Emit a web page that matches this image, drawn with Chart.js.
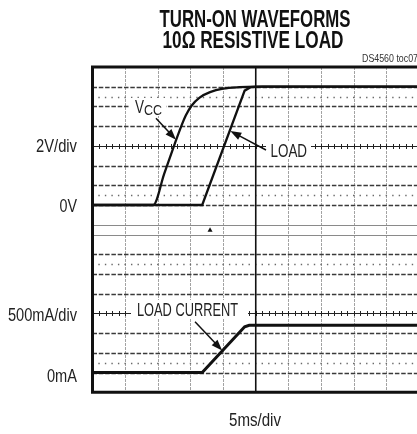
<!DOCTYPE html>
<html>
<head>
<meta charset="utf-8">
<script src="https://cdn.jsdelivr.net/npm/chart.js@4.4.1/dist/chart.umd.min.js"></script>
<style>
html,body{margin:0;padding:0;background:#fff;overflow:hidden;width:417px;height:434px}
#wrap{position:absolute;left:0;top:0;width:421px;height:434px}
canvas{display:block}
</style>
</head>
<body>
<div id="wrap"><canvas id="c" width="421" height="434"></canvas></div>
<script>
// ---- data (time in ms, volts, amps) ----
const vccTime  = [0, 9.3, 11.0, 12.7, 13.6, 14.3, 15.2, 16.4, 18.0, 20.0, 22.5, 25, 50];
const vccVolts = [0, 0,   3.2,  6.4,  8.0,  9.1,  10.1, 10.9, 11.45, 11.8, 11.95, 12, 12];
const loadTime  = [0, 16.8, 23.3, 24.2, 26, 50];
const loadVolts = [0, 0,    11.6, 11.95, 12, 12];
const currTime = [0, 16.8, 23.3, 24.0, 50];
const currAmps = [0, 0,    1.16, 1.2,  1.2];
const titleLines = ["TURN-ON WAVEFORMS", "10\u03A9 RESISTIVE LOAD"];
const docTag = "DS4560 toc07";
const voltScaleLabels = ["2V/div", "0V"];
const currScaleLabels = ["500mA/div", "0mA"];
const timeScaleLabel = "5ms/div";
const traceNames = ["V", "CC", "LOAD", "LOAD CURRENT"];
const triggerTime = 18.0;
// arrows: [tail t, tail value, tip t, tip value, axis]
const arrowVcc  = [9.72, 8.79, 12.79, 6.62, 'yV'];
const arrowLoad = [26.57, 5.58, 21.1, 7.5, 'yV'];
const arrowCurr = [15.70, 1.29, 19.85, 0.56, 'yI'];

const pts = (xs, ys) => xs.map((x, i) => ({x, y: ys[i]}));
const FAM = '"Liberation Sans", Arial, sans-serif';

function txt(ctx, s, x, y, size, weight, fitW, align, color) {
  ctx.save();
  ctx.font = weight + ' ' + size + 'px ' + FAM;
  ctx.fillStyle = color || '#222';
  ctx.textBaseline = 'alphabetic';
  ctx.textAlign = 'left';
  const mw = ctx.measureText(s).width;
  const sx = fitW ? fitW / mw : 0.82;
  const w = mw * sx;
  const x0 = align === 'center' ? x - w / 2 : align === 'right' ? x - w : x;
  ctx.translate(x0, y);
  ctx.scale(sx, 1);
  ctx.fillText(s, 0, 0);
  ctx.restore();
  return w;
}

function arrow(ctx, x1, y1, x2, y2) {
  const a = Math.atan2(y2 - y1, x2 - x1);
  const hl = 11, hw = 4;
  ctx.save();
  ctx.strokeStyle = '#111';
  ctx.fillStyle = '#111';
  ctx.lineWidth = 1.5;
  ctx.beginPath();
  ctx.moveTo(x1, y1);
  ctx.lineTo(x2 - Math.cos(a) * hl * 0.8, y2 - Math.sin(a) * hl * 0.8);
  ctx.stroke();
  ctx.beginPath();
  ctx.moveTo(x2, y2);
  ctx.lineTo(x2 - Math.cos(a) * hl + Math.sin(a) * hw, y2 - Math.sin(a) * hl - Math.cos(a) * hw);
  ctx.lineTo(x2 - Math.cos(a) * hl - Math.sin(a) * hw, y2 - Math.sin(a) * hl + Math.cos(a) * hw);
  ctx.closePath();
  ctx.fill();
  ctx.restore();
}

const scopePlugin = {
  id: 'scope',
  beforeDatasetsDraw(chart) {
    const ctx = chart.ctx;
    const X = t => chart.scales.x.getPixelForValue(t);
    const Y = d => chart.scales.yd.getPixelForValue(d);
    const L = X(0), R = X(50), T = Y(16.5), B = Y(0);
    ctx.save();
    // vertical graticule
    for (let k = 1; k < 10; k++) {
      if (k === 5) continue;
      const x = Math.round(X(k * 5)) + 0.5;
      ctx.strokeStyle = '#a3a3a3';
      ctx.lineWidth = 1;
      ctx.setLineDash([3, 1]);
      ctx.beginPath(); ctx.moveTo(x, T); ctx.lineTo(x, B); ctx.stroke();
    }
    ctx.setLineDash([]);
    const hl = (d, kind) => {
      const y = Math.round(Y(d)) + 0.5;
      ctx.beginPath();
      if (kind === 'dash') {
        ctx.strokeStyle = '#3a3a3a'; ctx.lineWidth = 1.3; ctx.setLineDash([4.5, 1.8]);
      } else if (kind === 'dot') {
        ctx.strokeStyle = '#6a6a6a'; ctx.lineWidth = 1.3;
        const step = (X(1) - X(0));
        ctx.setLineDash([1.4, step - 1.4]);
        ctx.lineDashOffset = -step + 0.7;
      } else if (kind === 'gap') {
        ctx.strokeStyle = '#8a8a8a'; ctx.lineWidth = 1; ctx.setLineDash([]);
      } else {
        ctx.strokeStyle = '#222'; ctx.lineWidth = 1.2; ctx.setLineDash([]);
      }
      ctx.moveTo(L, y); ctx.lineTo(R, y); ctx.stroke();
      ctx.setLineDash([]); ctx.lineDashOffset = 0;
      if (kind === 'center') {
        ctx.lineWidth = 1;
        ctx.beginPath();
        for (let t = 1; t < 50; t++) {
          const x = Math.round(X(t)) + 0.5;
          ctx.moveTo(x, y - 2.5); ctx.lineTo(x, y + 2.5);
        }
        ctx.stroke();
      }
    };
    // top panel (8.5..16.5) and bottom panel (0..8)
    [15.5, 14.5, 13.5, 11.5, 10.5, 9.5, 7, 6, 5, 3, 2, 1].forEach(d => hl(d, 'dash'));
    [15.0, 10.0, 6.5, 1.5].forEach(d => hl(d, 'dot'));
    [12.5, 4].forEach(d => hl(d, 'center'));
    [8.5, 8].forEach(d => hl(d, 'gap'));
    // center vertical
    ctx.strokeStyle = '#111'; ctx.lineWidth = 1.6;
    const xc = X(25);
    ctx.beginPath(); ctx.moveTo(xc, T); ctx.lineTo(xc, B); ctx.stroke();
    // trigger marker
    const xt = X(triggerTime), yt = Y(8.25);
    ctx.fillStyle = '#111';
    ctx.beginPath(); ctx.moveTo(xt, yt - 2.5); ctx.lineTo(xt + 2.5, yt + 2); ctx.lineTo(xt - 2.5, yt + 2); ctx.closePath(); ctx.fill();
    ctx.restore();
  },
  afterDatasetsDraw(chart) {
    const ctx = chart.ctx;
    const sc = chart.scales;
    const X = t => sc.x.getPixelForValue(t);
    const Y = d => sc.yd.getPixelForValue(d);
    const L = X(0), R = X(50), T = Y(16.5), B = Y(0);
    ctx.save();
    // frame
    ctx.strokeStyle = '#111';
    ctx.lineWidth = 3;
    ctx.beginPath();
    ctx.moveTo(L, T); ctx.lineTo(R, T); ctx.lineTo(R, B); ctx.lineTo(L, B); ctx.closePath();
    ctx.stroke();
    // label backgrounds
    ctx.fillStyle = '#fff';
    ctx.fillRect(129, 98, 37, 18);
    ctx.fillRect(266, 141, 45, 18);
    ctx.fillRect(131, 300, 117, 19);
    // trace labels
    txt(ctx, traceNames[0], 135, 113, 18, 'normal', 9, 'left', '#222');
    txt(ctx, traceNames[1], 144, 115, 14, 'normal', 18, 'left', '#222');
    txt(ctx, traceNames[2], 270.5, 157, 18, 'normal', 36.5, 'left', '#222');
    txt(ctx, traceNames[3], 137, 316, 18, 'normal', 101, 'left', '#222');
    // arrows
    [arrowVcc, arrowLoad, arrowCurr].forEach(a => {
      const ys = sc[a[4]];
      arrow(ctx, X(a[0]), ys.getPixelForValue(a[1]), X(a[2]), ys.getPixelForValue(a[3]));
    });
    ctx.restore();
  },
  afterDraw(chart) {
    const ctx = chart.ctx;
    txt(ctx, titleLines[0], 255, 27, 23, 'bold', 191, 'center', '#111');
    txt(ctx, titleLines[1], 253, 48, 23, 'bold', 181, 'center', '#111');
    txt(ctx, docTag, 362, 62, 11, 'normal', 56, 'left', '#333');
    txt(ctx, voltScaleLabels[0], 77, 152, 18, 'normal', 41, 'right', '#222');
    txt(ctx, voltScaleLabels[1], 77, 212, 18, 'normal', 17.5, 'right', '#222');
    txt(ctx, currScaleLabels[0], 77, 321, 18, 'normal', 69, 'right', '#222');
    txt(ctx, currScaleLabels[1], 77, 382, 18, 'normal', 30, 'right', '#222');
    txt(ctx, timeScaleLabel, 255, 426, 18, 'normal', 52, 'center', '#222');
  }
};

new Chart(document.getElementById('c'), {
  type: 'line',
  data: {
    datasets: [
      { label: 'VCC', data: pts(vccTime, vccVolts), yAxisID: 'yV', borderColor: '#111', borderWidth: 2.3, cubicInterpolationMode: 'monotone', pointRadius: 0 },
      { label: 'LOAD', data: pts(loadTime, loadVolts), yAxisID: 'yV', borderColor: '#111', borderWidth: 2.3, tension: 0, pointRadius: 0 },
      { label: 'LOAD CURRENT', data: pts(currTime, currAmps), yAxisID: 'yI', borderColor: '#111', borderWidth: 3, tension: 0, pointRadius: 0 }
    ]
  },
  options: {
    responsive: false,
    animation: false,
    devicePixelRatio: 1,
    layout: { padding: { left: 92.5, right: 2, top: 67, bottom: 41.7 } },
    plugins: { legend: { display: false }, tooltip: { enabled: false }, title: { display: false } },
    scales: {
      x: { type: 'linear', min: 0, max: 50, display: false },
      yV: { type: 'linear', min: -19, max: 14, display: false },
      yI: { type: 'linear', min: -0.5, max: 7.75, display: false },
      yd: { type: 'linear', min: 0, max: 16.5, display: false }
    }
  },
  plugins: [scopePlugin]
});
</script>
</body>
</html>
